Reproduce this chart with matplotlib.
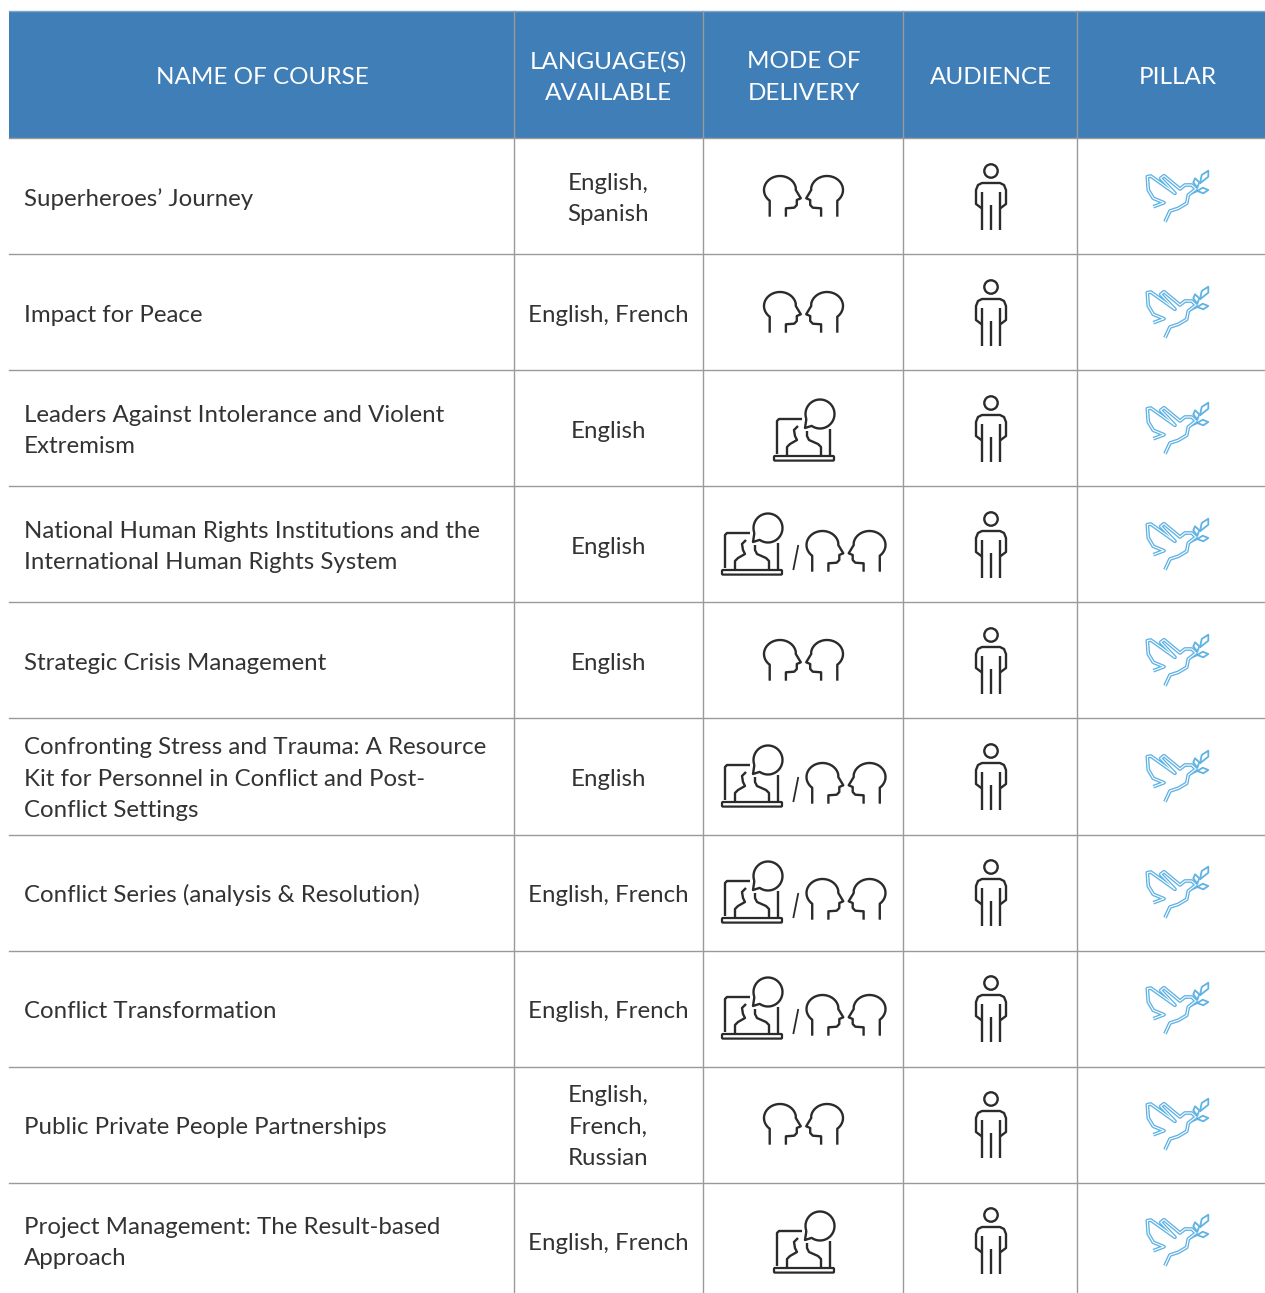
import numpy as np
import matplotlib
matplotlib.use('Agg')
import matplotlib.pyplot as plt
from matplotlib.patches import Circle, Rectangle, FancyBboxPatch

plt.rcParams['font.family'] = ['Lato', 'DejaVu Sans']

headers = ['NAME OF COURSE', 'LANGUAGE(S)\nAVAILABLE', 'MODE OF\nDELIVERY', 'AUDIENCE', 'PILLAR']
header_x = [262, 608.5, 803.5, 991, 1178]
courses = ['Superheroes\u2019 Journey',
           'Impact for Peace',
           'Leaders Against Intolerance and Violent\nExtremism',
           'National Human Rights Institutions and the\nInternational Human Rights System',
           'Strategic Crisis Management',
           'Confronting Stress and Trauma: A Resource\nKit for Personnel in Conflict and Post-\nConflict Settings',
           'Conflict Series (analysis & Resolution)',
           'Conflict Transformation',
           'Public Private People Partnerships',
           'Project Management: The Result-based\nApproach']
languages = ['English,\nSpanish', 'English, French', 'English', 'English', 'English',
             'English', 'English, French', 'English, French', 'English,\nFrench,\nRussian',
             'English, French']
modes = ['person', 'person', 'online', 'both', 'person', 'both', 'both', 'both', 'person', 'online']

col_edges = [9, 514, 703, 903, 1077, 1265]
row_edges = [138, 254, 370, 486, 602, 718, 835, 951, 1067, 1183, 1293]
row_mid_step = 116

BLUE = '#3f7eb7'
GRID = '#9a9a9a'
TEXT = '#333333'
ICON = '#2b2b2b'
DOVE = '#5fb2e4'
HFS = 17.5
FS = 17.3
LS = 1.6

fig = plt.figure(figsize=(12.65, 12.93), dpi=100)
ax = fig.add_axes([0, 0, 1, 1])
ax.set_xlim(0, 1265)
ax.set_ylim(1293, 0)
ax.axis('off')


def line(xs, ys, color=ICON, lw=1.7, z=3):
    ax.plot(xs, ys, color=color, lw=lw, solid_capstyle='butt', solid_joinstyle='round', zorder=z)


def head(cx, cy, flip=1):
    a = np.radians(np.linspace(130, 350, 40))
    xs = [-33.8] + list(-23.5 + 16 * np.cos(a)) + [-7.7, -2.7, -6.7, -6.7, -9.3, -17.6, -17.6]
    ys = [20.7] + list(-6 + 14 * np.sin(a)) + [-6, 2.3, 4, 9, 11.7, 12.3, 20.7]
    line(cx + flip * np.array(xs), cy + np.array(ys))


def heads(cx, cy):
    head(cx, cy, 1)
    head(cx, cy, -1)


def laptop(cx, cy):
    ax.add_patch(FancyBboxPatch((cx - 29, cy + 27), 58, 2.6, boxstyle='round,pad=1', fc='white', ec=ICON, lw=1.6, zorder=3))
    line(cx + np.array([-27, -27, -25, -2]), cy + np.array([24, -9, -11, -11]))
    line(cx + np.array([26, 26]), cy + np.array([-1, 25]))
    line(cx + np.array([-17, -17, -14, -7, -9, -10, -6]), cy + np.array([25, 17, 14, 10, 6, 0, -4]))
    line(cx + np.array([17, 17, 14, 5, 3, 3]), cy + np.array([25, 17, 14, 10, 6, 1]))
    a = np.radians(np.linspace(-200, 125, 50))
    bx = 16 + 14.5 * np.cos(a)
    by = -16 + 14.5 * np.sin(a)
    line(cx + np.append(bx, [1, bx[0]]), cy + np.append(by, [-2, by[0]]))


def person(cx, cy):
    ax.add_patch(Circle((cx, cy - 25), 6.7, fc='none', ec=ICON, lw=1.7, zorder=3))
    line(cx + np.array([-9, -15, -15, -13, -9, 9, 13, 15, 15, 9]),
         cy + np.array([12.5, 8, -6, -11, -13, -13, -11, -6, 8, 12.5]))
    for dx, top in [(-9, -4), (0, 9), (9, -4)]:
        line([cx + dx, cx + dx], [cy + top, cy + 34])


dove_body = np.array([[-24.7, 10.7], [-14, 6.7], [-24.7, 2.3], [-29.7, -6], [-30.7, -19.3], [-27.3, -20],
                      [-3, -2.7], [-17.3, -17.7], [-14, -20.3], [2, -7], [7, -11], [13.7, -11], [18, -7],
                      [10.3, -1], [8.7, 7.3], [0.3, 12.3], [-8, 15], [-13, 25.7]])
dove_branch = np.array([[12, -1.7], [19.3, -5]])
dove_leaves = [np.array([[19.3, -8.3], [15.3, -13.7], [17, -17.7], [21.3, -13.7], [19.3, -8.3]]),
               np.array([[22, -12.7], [23.7, -21], [30.3, -25.3], [30.3, -19.3], [22, -12.7]]),
               np.array([[19.3, -5], [24.7, -8.3], [30.3, -6], [25.3, -2.7], [19.3, -5]])]


def dove(cx, cy):
    line(cx + dove_body[:, 0], cy + dove_body[:, 1], DOVE, 2.7)
    line(cx + dove_body[:, 0], cy + dove_body[:, 1], 'white', 0.8, 4)
    for part in dove_leaves:
        line(cx + part[:, 0], cy + part[:, 1], DOVE, 1.3)
    line(cx + dove_branch[:, 0], cy + dove_branch[:, 1], DOVE, 1.4)


ax.add_patch(Rectangle((col_edges[0], 11), col_edges[-1] - col_edges[0], 127, fc=BLUE, ec='none', zorder=1))
ax.plot([col_edges[0], col_edges[-1]], [11, 11], color='#7fa6cb', lw=1, zorder=2)

for x in col_edges[1:-1]:
    ax.plot([x, x], [11, 1293], color=GRID, lw=1, zorder=2)
for y in row_edges[:-1]:
    ax.plot([col_edges[0], col_edges[-1]], [y, y], color=GRID, lw=1, zorder=2)

for i, h in enumerate(headers):
    ax.text(header_x[i], 77.5, h, color='white', fontsize=HFS, ha='center', va='center', linespacing=LS)

for i in range(len(courses)):
    yc = row_edges[0] + row_mid_step * (i + 0.5)
    ax.text(24, yc + 3, courses[i], color=TEXT, fontsize=FS, ha='left', va='center', linespacing=LS)
    ax.text(608.5, yc + 3, languages[i], color=TEXT, fontsize=FS, ha='center', va='center', linespacing=LS)
    if modes[i] == 'person':
        heads(803.5, yc)
    elif modes[i] == 'online':
        laptop(804, yc + 2)
    else:
        laptop(752, yc)
        line([798.3, 793.3], [yc + 1, yc + 26], lw=1.3)
        heads(846, yc + 7)
    person(991, yc)
    dove(1178, yc)

fig.savefig('out.png', dpi=100)
